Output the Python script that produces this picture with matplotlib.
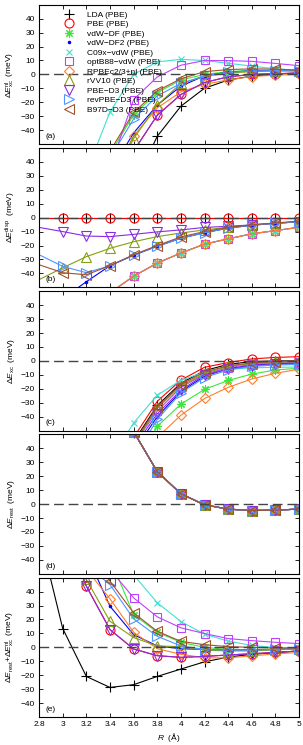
import numpy as np
import matplotlib
matplotlib.use("Agg")
import matplotlib.pyplot as plt
from matplotlib.lines import Line2D

plt.rcParams['font.family'] = ['Liberation Sans', 'DejaVu Sans']
plt.rcParams['mathtext.fontset'] = 'custom'
plt.rcParams['mathtext.rm'] = 'Liberation Sans'
plt.rcParams['mathtext.it'] = 'Liberation Sans:italic'

# separations (Angstrom); markers are shown from 3.0 on
R = [2.8, 3.0, 3.2, 3.4, 3.6, 3.8, 4.0, 4.2, 4.4, 4.6, 4.8, 5.0]

methods = ["LDA", "PBE", "vdW−DF", "vdW−DF2", "C09x−vdW", "optB88−vdW",
           "RPBEc2/3+nl", "rVV10", "PBE−D3", "revPBE−D3", "B97D−D3"]
labels = [m + " (PBE)" for m in methods]

# (a) non-local xc part
xc_nl = {
    "LDA":         [-240, -216, -181, -129, -80, -44.4, -22.8, -9.9, -4.0, -1.2, 0.3, 1.0],
    "PBE":         [-190, -160, -116, -88, -55, -29.3, -14.4, -5.8, -1.7, 0.0, 0.5, 1.0],
    "vdW−DF":      [-160, -130, -95, -57, -29, -13, -4, 0, 2, 3, 3, 3],
    "vdW−DF2":     [-170, -140, -105, -70, -42, -22, -8.4, -1, 1.6, 2.6, 2.8, 2.8],
    "C09x−vdW":    [-200, -120, -70, -27, 0, 9, 10.8, 10, 8, 6, 4, 3],
    "optB88−vdW":  [-200, -150, -100, -67, -18, -1.8, 6.6, 10, 9.9, 9.4, 7.9, 6.3],
    "RPBEc2/3+nl": [-200, -150, -110, -78, -44, -24, -12.5, -7, -4, -1.5, -0.5, 0],
    "rVV10":       [-200, -170, -110, -81, -46, -22, -6.5, -1.5, 1, 2, 2.5, 2.5],
    "PBE−D3":      [-190, -160, -116, -88, -55, -29.3, -14.4, -5.8, -1.7, 0.0, 0.5, 1.0],
    "revPBE−D3":   [-150, -120, -85, -60, -32, -15.4, -6.5, -1, 1.5, 2.5, 2.8, 2.6],
    "B97D−D3":     [-150, -120, -85, -55, -27.3, -11.8, -3.1, 2.0, 3.5, 4.0, 3.8, 3.1],
}

# (b) dispersion correlation
c_disp = {
    "LDA":         [0, 0, 0, 0, 0, 0, 0, 0, 0, 0, 0, 0],
    "PBE":         [0, 0, 0, 0, 0, 0, 0, 0, 0, 0, 0, 0],
    "vdW−DF":      [-90, -80, -68, -54, -42, -32.6, -25.4, -19, -15.2, -11.6, -9.3, -6.9],
    "vdW−DF2":     [-75, -58, -46, -34.5, -27, -20.5, -14.8, -10.8, -7.5, -5.5, -4, -3],
    "C09x−vdW":    [-90, -80, -68, -54, -42, -32.6, -25.4, -19, -15.2, -11.6, -9.3, -6.9],
    "optB88−vdW":  [-90, -80, -68, -54, -42, -32.6, -25.4, -19, -15.2, -11.6, -9.3, -6.9],
    "RPBEc2/3+nl": [-90, -80, -68, -54, -42, -32.6, -25.4, -19, -15.2, -11.6, -9.3, -6.9],
    "rVV10":       [-44.5, -36, -28, -22, -17.3, -13.6, -11, -8.8, -6.9, -5.2, -4, -2.9],
    "PBE−D3":      [-7, -10, -13.2, -13.6, -12, -10.2, -8.8, -7, -6.2, -5.2, -4, -3],
    "revPBE−D3":   [-26.6, -35, -39.5, -34.5, -26.8, -20.6, -14.8, -10.8, -7.5, -5.5, -4, -3],
    "B97D−D3":     [-33.8, -39.5, -41, -34.5, -26.6, -20, -13.8, -10, -7, -5.2, -3.8, -2.5],
}

# (c) semi-local xc
xc = {
    "LDA":         [-300, -250, -200, -130, -58, -32, -16, -7, -2.5, -0.5, 0, 0],
    "PBE":         [-300, -250, -200, -120, -55, -29, -13.8, -4.6, -1.2, 1.4, 2.5, 3.0],
    "vdW−DF":      [-300, -250, -200, -140, -77, -47, -31, -20.5, -14, -9.5, -6.5, -5.3],
    "vdW−DF2":     [-300, -250, -200, -130, -65, -40, -22, -11, -5.5, -3, -2, -1.5],
    "C09x−vdW":    [-300, -250, -170, -72, -44.5, -24.6, -14, -8, -6, -5, -4.6, -4.4],
    "optB88−vdW":  [-300, -250, -200, -130, -60, -36, -19, -9.5, -5, -2.5, -1.5, -1],
    "RPBEc2/3+nl": [-300, -250, -200, -150, -100, -55, -39, -27, -19, -13, -8.9, -6],
    "rVV10":       [-300, -250, -200, -130, -60, -34, -18, -9, -4, -2, -1, -0.5],
    "PBE−D3":      [-300, -250, -200, -130, -62, -38, -21, -10, -6, -3.5, -2.5, -2],
    "revPBE−D3":   [-300, -250, -200, -130, -70, -42, -23, -12, -6.5, -4, -3, -2.5],
    "B97D−D3":     [-300, -250, -200, -130, -59, -33, -17, -8, -3.5, -1.5, -0.5, 0],
}

# (d) rest, identical for every method
rest = [320, 230, 160, 100, 52, 23.3, 7.4, -0.5, -3.6, -4.6, -4.3, -3.6]

# (e) rest + non-local xc
total = {
    "LDA":         [83, 13.5, -20.9, -28.8, -26.8, -20.9, -15.6, -10.4, -7, -5, -3.8, -2.6],
    "PBE":         [130, 85, 43.9, 12.7, -1.2, -6, -7.2, -6.5, -5.5, -4.6, -3.7, -2.6],
    "vdW−DF":      [200, 150, 100, 64, 23.5, 10.8, 3.6, 0, -1.6, -1.6, -1.3, -0.6],
    "vdW−DF2":     [150, 100, 67, 29.5, 9.1, 1, -1, -1.5, -2, -2, -1.5, -0.8],
    "C09x−vdW":    [250, 200, 140, 90, 52, 32, 18.5, 9.5, 4.4, 1.4, -0.3, -0.6],
    "optB88−vdW":  [200, 150, 100, 56, 35.5, 21.9, 14, 9.9, 6.3, 4.8, 3.6, 2.7],
    "RPBEc2/3+nl": [150, 110, 56, 34.8, 10.8, -1, -5, -7.5, -7.6, -6.1, -4.8, -3.6],
    "rVV10":       [120, 62, 48.7, 18.7, 7, 1, 0.5, -2, -2.6, -2.6, -1.8, -1.1],
    "PBE−D3":      [130, 85, 43.9, 12.7, -1.2, -6, -7.2, -6.5, -5.5, -4.6, -3.7, -2.6],
    "revPBE−D3":   [150, 100, 59, 45, 20.4, 7.9, 1, -1.5, -2, -2, -1.5, -1],
    "B97D−D3":     [200, 150, 72, 47.5, 24.7, 11.5, 4.3, 1.9, 0.5, 0, -0.5, -0.5],
}

colors = ["black", "#ff0000", "#3ce63c", "#0000ff", "#40e0d0", "#bf40ff",
          "#ff7f2a", "#85a010", "#8a2be2", "#4f94ff", "#a0522d"]
markers = ["+", "o", (8, 2, 0), ".", "x", "s", "D", "^", "v", ">", "<"]
msizes = [7, 6.5, 6, 3.5, 5, 6, 5, 7.5, 7.5, 7.5, 7.5]

ylabels = [r"Δ$E^{\rm nl}_{\rm xc}$  (meV)",
           r"Δ$E^{\rm disp}_{\rm c}$  (meV)",
           r"Δ$E_{\rm xc}$  (meV)",
           r"Δ$E_{\rm rest}$  (meV)",
           r"Δ$E_{\rm rest}$+Δ$E^{\rm nl}_{\rm xc}$  (meV)"]
panels = [xc_nl, c_disp, xc, {m: rest for m in methods}, total]
tags = ["(a)", "(b)", "(c)", "(d)", "(e)"]

fig, axes = plt.subplots(5, 1, figsize=(3.03, 7.45), dpi=100, sharex=True)
fig.subplots_adjust(left=0.129, right=0.987, top=0.9936, bottom=0.0376, hspace=0.028)

for ax, data, lab, tag in zip(axes, panels, ylabels, tags):
    for m, c, mk, ms in zip(methods, colors, markers, msizes):
        filled = mk in ["+", "x", "."] or isinstance(mk, tuple)
        ax.plot(R, data[m], color=c, lw=0.8, marker=mk, ms=ms, mew=0.8,
                mfc=c if filled else "none", markevery=list(range(1, len(R))))
    ax.axhline(0, color="#444444", lw=1.0, ls=(0, (7, 3.5)), zorder=2.5)
    ax.set_xlim(2.8, 5.0)
    ax.set_ylim(-50, 50)
    ax.set_yticks(np.arange(-40, 41, 10))
    ax.tick_params(direction="in", top=True, right=True, length=3, width=0.6,
                   labelsize=6, pad=3)
    ax.set_ylabel(lab, fontsize=6)
    ax.yaxis.set_label_coords(-0.085, 0.5)
    ax.text(0.025, 0.03, tag, transform=ax.transAxes, fontsize=6,
            ha="left", va="bottom")
    for s in ax.spines.values():
        s.set_linewidth(0.8)

xt = [2.8, 3.0, 3.2, 3.4, 3.6, 3.8, 4.0, 4.2, 4.4, 4.6, 4.8, 5.0]
axes[-1].set_xticks(xt)
axes[-1].set_xticklabels(["%g" % v for v in xt])
axes[-1].set_xlabel(r"$R$  (Å)", fontsize=6, labelpad=2)

handles = [Line2D([], [], ls="none", marker=mk, color=c, ms=ms, mew=0.8,
                  mfc=c if (mk in ["+", "x", "."] or isinstance(mk, tuple)) else "none")
           for c, mk, ms in zip(colors, markers, msizes)]
axes[0].legend(handles, labels, loc="upper left", bbox_to_anchor=(0.095, 0.955),
               frameon=False, fontsize=6, handlelength=1.2, handletextpad=1.6,
               labelspacing=0.2, borderpad=0, borderaxespad=0)

fig.savefig("out.png", dpi=100)
